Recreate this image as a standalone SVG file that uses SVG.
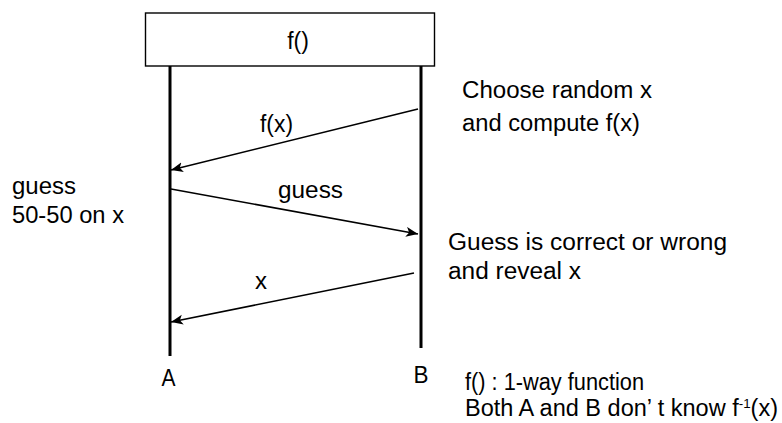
<svg xmlns="http://www.w3.org/2000/svg" width="782" height="423" viewBox="0 0 782 423">
<style>
text{font-family:"Liberation Sans",Arial,sans-serif;font-size:23px;fill:#000}
.life{stroke:#000;stroke-width:3;fill:none}
.msg{stroke:#000;stroke-width:1.6;fill:none;marker-end:url(#ah)}
.box{fill:#fff;stroke:#000;stroke-width:1.4}
</style>
<defs>
<marker id="ah" markerUnits="userSpaceOnUse" markerWidth="14" markerHeight="11" refX="12" refY="5" orient="auto">
<path d="M0,0 L12,5 L0,10 L3,5 Z" fill="#000"/>
</marker>
</defs>
<rect width="782" height="423" fill="#fff"/>
<g id="lifelineA"><line class="life" x1="170" y1="66" x2="170" y2="356"/></g>
<g id="lifelineB"><line class="life" x1="421" y1="64" x2="421" y2="348"/></g>
<g id="fbox">
<rect class="box" x="145.5" y="13" width="289" height="53"/>
<text x="298" y="49" text-anchor="middle">f()</text>
</g>
<g id="connectors">
<line class="msg" x1="418" y1="109" x2="171" y2="170"/>
<line class="msg" x1="171" y1="189" x2="418" y2="234"/>
<line class="msg" x1="414" y1="273" x2="171" y2="322"/>
</g>
<g id="labels">
<text x="260" y="132" textLength="33" lengthAdjust="spacingAndGlyphs">f(x)</text>
<text x="278" y="197.5" textLength="65" lengthAdjust="spacingAndGlyphs">guess</text>
<text x="255" y="288.5" textLength="12" lengthAdjust="spacingAndGlyphs">x</text>
</g>
<g id="noteB1">
<text x="462" y="98" textLength="190" lengthAdjust="spacingAndGlyphs">Choose random x</text>
<text x="462" y="131" textLength="178" lengthAdjust="spacingAndGlyphs">and compute f(x)</text>
</g>
<g id="noteA">
<text x="12" y="193.5" textLength="64" lengthAdjust="spacingAndGlyphs">guess</text>
<text x="12" y="222.5" textLength="112" lengthAdjust="spacingAndGlyphs">50-50 on x</text>
</g>
<g id="noteB2">
<text x="448" y="250" textLength="279" lengthAdjust="spacingAndGlyphs">Guess is correct or wrong</text>
<text x="448" y="278.5" textLength="133" lengthAdjust="spacingAndGlyphs">and reveal x</text>
</g>
<g id="nameA"><text x="161.5" y="386" textLength="14" lengthAdjust="spacingAndGlyphs">A</text></g>
<g id="nameB"><text x="413.5" y="382.5" textLength="15" lengthAdjust="spacingAndGlyphs">B</text></g>
<g id="footnote">
<text x="465" y="390" textLength="179" lengthAdjust="spacingAndGlyphs">f() : 1-way function</text>
<text x="465" y="416" textLength="313" lengthAdjust="spacingAndGlyphs">Both A and B don’ t know f<tspan font-size="13" dy="-8">-1</tspan><tspan dy="8">(x)</tspan></text>
</g>
</svg>
